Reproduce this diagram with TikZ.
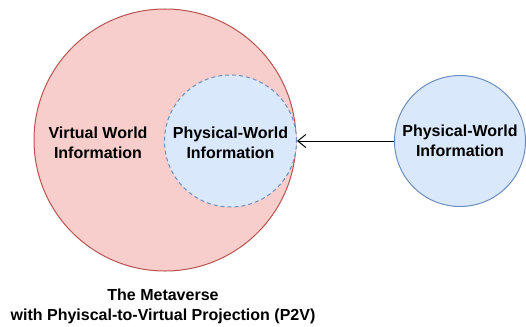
\documentclass[tikz,border=0pt]{standalone}
\usepackage{fontspec}
\setmainfont{Liberation Sans}
\usetikzlibrary{arrows.meta}
\definecolor{redfill}{HTML}{F8CECC}
\definecolor{redline}{HTML}{B85450}
\definecolor{bluefill}{HTML}{DAE8FC}
\definecolor{blueline}{HTML}{6C8EBF}
\begin{document}
\begin{tikzpicture}[x=1pt,y=-1pt,
metaverse/.style={circle,draw=redline,fill=redfill,line width=1pt,minimum size=262pt,inner sep=0pt},
projected/.style={circle,draw=blueline,fill=bluefill,line width=1pt,dashed,dash pattern=on 4pt off 3pt,minimum size=132pt,inner sep=0pt},
physical/.style={circle,draw=blueline,fill=bluefill,line width=1pt,minimum size=131pt,inner sep=0pt},
txt/.style={align=center,font=\fontsize{16}{19.5}\selectfont\bfseries}
]
\useasboundingbox (0,0) rectangle (526,326);

\node[metaverse] (meta) at (165,140) {};
\node[projected] (inner) at (230.5,141) {};
\node[txt] (virt) at (98,143) {Virtual World\\Information};
\node[txt] (innertext) at (230.5,143) {Physical-World\\Information};

\node[physical,txt] (phys) at (460,141) {Physical-World\\Information};

\draw[-{Straight Barb[length=8pt,width=13pt]},line width=1pt] (phys) -- (inner);

\node[txt] (title) at (163,306.5) {The Metaverse\\with Phyiscal-to-Virtual Projection (P2V)};
\end{tikzpicture}
\end{document}
